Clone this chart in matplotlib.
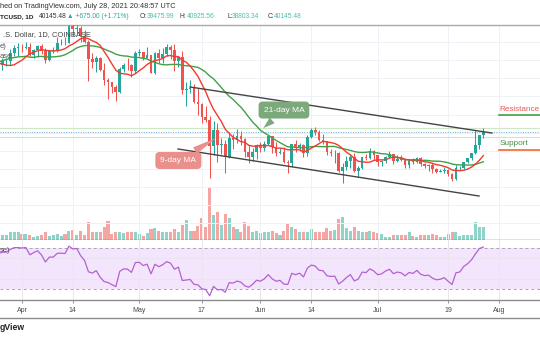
import numpy as np
import pandas as pd
import matplotlib
matplotlib.use("Agg")
import matplotlib.pyplot as plt
from matplotlib.lines import Line2D

plt.rcParams['font.family'] = ['Liberation Sans', 'DejaVu Sans']

# BTCUSD daily candles, 2021-03-26 .. 2021-07-28 (prices in thousand USD)
opens = [51.3, 55.0, 55.8, 55.8, 57.6, 58.8, 58.8, 58.7, 59.0, 57.1, 58.2, 59.1, 58.0, 56.0, 58.1, 58.1, 59.8, 59.9,
         59.8, 63.6, 62.9, 63.2, 61.4, 60.1, 56.2, 55.7, 56.5, 53.8, 51.7, 51.2, 50.1, 49.0, 54.0, 55.0, 54.9, 53.6,
         57.7, 57.8, 56.6, 57.2, 53.2, 57.5, 56.4, 57.4, 58.9, 58.3, 55.8, 56.7, 49.5, 49.7, 49.9, 46.8, 46.4, 43.5,
         42.9, 37.0, 40.6, 37.3, 37.5, 34.7, 38.8, 38.4, 39.3, 38.5, 35.7, 34.6, 35.7, 37.3, 36.7, 37.6, 39.2, 36.9,
         35.5, 35.8, 33.6, 33.4, 37.4, 36.7, 37.3, 35.5, 39.1, 40.5, 40.1, 38.3, 38.1, 35.8, 35.5, 35.6, 31.6, 32.5,
         33.7, 34.7, 31.6, 32.2, 34.7, 34.5, 35.9, 35.0, 33.5, 33.8, 34.7, 35.3, 33.7, 34.2, 33.9, 32.9, 33.8, 33.5,
         34.3, 33.1, 32.7, 32.8, 31.9, 31.4, 31.5, 31.8, 30.8, 29.8, 32.1, 32.3, 33.6, 34.3, 35.4, 37.3, 39.48]
highs = [55.1, 56.6, 56.6, 58.4, 59.4, 59.8, 59.5, 60.0, 59.8, 58.5, 59.3, 59.5, 58.6, 58.2, 58.9, 61.2, 60.7, 61.2,
         63.8, 64.9, 63.8, 63.6, 62.6, 60.4, 57.5, 57.0, 56.8, 55.4, 52.1, 51.2, 50.5, 54.4, 55.5, 56.4, 55.2, 58.0,
         58.5, 57.9, 58.9, 57.2, 57.9, 58.4, 58.6, 59.5, 59.3, 59.6, 56.9, 58.0, 51.3, 51.6, 50.7, 49.8, 46.6, 45.8,
         43.6, 42.5, 42.2, 38.8, 38.3, 39.9, 39.8, 40.8, 40.4, 38.9, 37.3, 36.5, 37.5, 37.9, 38.2, 39.5, 39.3, 37.9,
         36.5, 36.8, 34.0, 37.5, 38.4, 37.7, 37.4, 39.4, 41.0, 41.3, 40.5, 39.6, 38.2, 36.4, 36.1, 35.7, 33.3, 34.9,
         35.3, 35.5, 32.7, 34.7, 35.3, 36.6, 36.1, 35.0, 33.9, 34.9, 35.9, 35.3, 35.0, 35.1, 33.9, 34.1, 34.3, 34.6,
         34.6, 33.3, 33.1, 33.2, 32.2, 31.9, 32.4, 31.9, 31.0, 32.8, 32.6, 33.6, 34.5, 35.4, 40.5, 39.5, 40.93]
lows = [51.3, 53.9, 54.7, 54.9, 57.0, 56.9, 57.9, 58.5, 57.0, 56.5, 56.8, 57.4, 55.5, 55.9, 57.7, 57.9, 59.4, 59.4,
        59.8, 61.3, 62.1, 60.0, 59.9, 51.5, 54.2, 53.4, 53.6, 50.5, 47.5, 48.8, 47.0, 48.8, 53.3, 53.9, 52.4, 53.1,
        57.0, 56.0, 56.5, 53.1, 52.9, 55.3, 55.4, 56.9, 56.3, 53.6, 54.4, 48.6, 46.0, 48.8, 46.6, 43.8, 42.1, 42.3,
        30.0, 35.0, 33.5, 35.3, 31.1, 34.4, 36.4, 37.8, 37.2, 34.7, 33.4, 33.7, 34.2, 35.7, 35.9, 37.2, 35.6, 34.8,
        35.3, 33.4, 31.0, 32.4, 35.8, 35.9, 34.6, 34.8, 38.8, 39.5, 38.1, 37.4, 35.1, 34.8, 33.4, 31.3, 28.8, 31.7,
        32.3, 31.3, 30.2, 32.0, 33.9, 34.2, 34.0, 32.7, 32.7, 33.3, 34.5, 33.1, 33.5, 33.8, 32.1, 32.3, 33.0, 33.3,
        32.7, 32.2, 31.6, 31.1, 31.0, 31.2, 31.1, 30.4, 29.3, 29.5, 31.7, 31.9, 33.4, 33.9, 35.3, 36.4, 38.80]
closes = [55.0, 55.8, 55.8, 57.6, 58.8, 58.8, 58.7, 59.0, 57.1, 58.2, 59.1, 58.0, 56.0, 58.1, 58.1, 59.8, 59.9, 59.8,
          63.6, 62.9, 63.2, 61.4, 60.1, 56.2, 55.7, 56.5, 53.8, 51.7, 51.2, 50.1, 49.0, 54.0, 55.0, 54.9, 53.6, 57.7,
          57.8, 56.6, 57.2, 53.2, 57.5, 56.4, 57.4, 58.9, 58.3, 55.8, 56.7, 49.5, 49.7, 49.9, 46.8, 46.4, 43.5, 42.9,
          37.0, 40.6, 37.3, 37.5, 34.7, 38.8, 38.4, 39.3, 38.5, 35.7, 34.6, 35.7, 37.3, 36.7, 37.6, 39.2, 36.9, 35.5,
          35.8, 33.6, 33.4, 37.4, 36.7, 37.3, 35.5, 39.1, 40.5, 40.1, 38.3, 38.1, 35.8, 35.5, 35.6, 31.6, 32.5, 33.7,
          34.7, 31.6, 32.2, 34.7, 34.5, 35.9, 35.0, 33.5, 33.8, 34.7, 35.3, 33.7, 34.2, 33.9, 32.9, 33.8, 33.5, 34.3,
          33.1, 32.7, 32.8, 31.9, 31.4, 31.5, 31.8, 30.8, 29.8, 32.1, 32.3, 33.6, 34.3, 35.4, 37.3, 39.5, 40.145]
# closes of 2021-03-06 .. 2021-03-25, only used to warm up MA / RSI
closes_before = [48.9, 50.9, 52.4, 54.9, 55.9, 57.8, 57.2, 61.2, 59.0, 55.6, 56.9, 58.9, 57.6, 58.1, 58.1, 57.4,
                 54.1, 54.3, 52.3, 51.3]
# volume, thousand BTC
volume = [14, 12, 12, 20, 18, 20, 14, 14, 11, 7, 10, 11, 18, 10, 11, 14, 10, 14, 21, 24, 12, 22, 13, 43, 18, 20, 18,
          32, 46, 14, 18, 20, 17, 18, 18, 18, 14, 10, 16, 26, 28, 22, 20, 18, 20, 26, 18, 35, 48, 22, 22, 34, 52, 32,
          127, 60, 66, 36, 62, 52, 32, 26, 20, 42, 34, 18, 22, 16, 18, 18, 22, 16, 12, 22, 40, 30, 26, 18, 18, 20, 26,
          20, 20, 20, 28, 22, 24, 50, 56, 28, 22, 32, 22, 18, 18, 22, 20, 16, 14, 8, 8, 12, 12, 12, 12, 18, 10, 8, 12,
          12, 12, 14, 12, 8, 8, 14, 20, 18, 10, 12, 12, 12, 44, 30, 30]

tick_days = [6, 19, 36, 52, 67, 80, 97, 115, 128]
tick_labels = ['Apr', '14', 'May', '17', 'Jun', '14', 'Jul', '19', 'Aug']
price_grid = [20, 24, 28, 32, 36, 40, 44, 48, 52, 56, 60]

channel_upper = ([49.0, 126.2], [50.09, 39.92])
channel_lower = ([45.9, 122.9], [36.39, 26.0])
zone_top, last_price, zone_bottom = 41.0, 40.145, 39.0
resistance_level, support_level = 43.9, 36.2

UP, DOWN = '#26a69a', '#ef5350'
W, H = 540, 340


def fx(x):
    return x / W


def fy(y):
    return 1 - y / H


days = np.arange(len(closes))
o, h, l, c = map(np.array, (opens, highs, lows, closes))
up = c >= o

all_close = pd.Series(closes_before + closes)
ma9 = all_close.rolling(9).mean().values[len(closes_before):]
ma21 = all_close.rolling(21).mean().values[len(closes_before):]
diff = all_close.diff()
gain = diff.clip(lower=0).ewm(alpha=1 / 14, adjust=False).mean()
loss = (-diff.clip(upper=0)).ewm(alpha=1 / 14, adjust=False).mean()
rsi = (100 - 100 / (1 + gain / loss)).values[len(closes_before):]

fig = plt.figure(figsize=(5.4, 3.4), dpi=100)
fig.patch.set_facecolor('white')

vol_ax = fig.add_axes([0, fy(240), 1, 215 / H])
ax = fig.add_axes([0, fy(240), 1, 215 / H], sharex=vol_ax)
rsi_ax = fig.add_axes([0, fy(300), 1, 60 / H], sharex=ax)
ax.set_facecolor('none')

# volume
vol_ax.bar(days, volume, width=0.78, color=np.where(up, '#8fd3c9', '#f6a6a2'), zorder=2)
vol_ax.set_ylim(0, max(volume) * 215 / 53)
vol_ax.axis('off')

# price pane
ax.set_xlim(0.373, 138.5)
ax.set_ylim(16.28, 63.79)
ax.set_yticks(price_grid)
ax.set_xticks(tick_days)
ax.tick_params(length=0, labelbottom=False, labelleft=False)
ax.grid(True, color='#eef2f6', lw=0.7)
ax.set_axisbelow(True)
for s in ('left', 'right'):
    ax.spines[s].set_visible(False)
ax.spines['top'].set_color('#a9a9a9')
ax.spines['top'].set_linewidth(1.0)
ax.spines['bottom'].set_color('#6e6e6e')
ax.spines['bottom'].set_linewidth(1.0)

ax.axhline(zone_top, color='#cfe6c6', lw=0.8, zorder=1)
ax.axhline(zone_bottom, color='#cfe6c6', lw=0.8, zorder=1)
ax.axhline(last_price, color='#6fa9d6', lw=0.7, ls=(0, (1, 1.5)), zorder=1)

ax.vlines(days, l, h, colors=np.where(up, UP, DOWN), lw=0.75, zorder=3)
ax.bar(days, np.maximum(np.abs(c - o), 0.08), bottom=np.minimum(o, c), width=0.68,
       color=np.where(up, UP, DOWN), zorder=4)

ax.plot(days, ma21, color='#43a047', lw=1.0, zorder=5)
ax.plot(days, ma9, color='#f23a30', lw=1.0, zorder=5)

ax.plot(*channel_upper, color='#444444', lw=1.0, zorder=6)
ax.plot(*channel_lower, color='#444444', lw=1.0, zorder=6)

ax.annotate('21-day MA', xy=(67.2, 40.6), xytext=(73.0, 45.0), color='white', fontsize=6,
            ha='center', va='center', zorder=8,
            bbox=dict(boxstyle='round,pad=0.6,rounding_size=0.5', fc='#7ba97c', ec='none'),
            arrowprops=dict(arrowstyle='wedge,tail_width=0.9,shrink_factor=0.5', fc='#7ba97c', ec='none'))
ax.annotate('9-day MA', xy=(56.2, 39.1), xytext=(46.0, 33.85), color='white', fontsize=6,
            ha='center', va='center', zorder=8,
            bbox=dict(boxstyle='round,pad=0.6,rounding_size=0.5', fc='#e98f8c', ec='none'),
            arrowprops=dict(arrowstyle='wedge,tail_width=0.9,shrink_factor=0.5', fc='#e98f8c', ec='none'))

ax.text(128.2, 45.1, 'Resistance', color='#e35d5b', fontsize=5.9, va='center', ha='left')
ax.plot([128.0, 140], [resistance_level, resistance_level], color='#3f9e45', lw=1.2, clip_on=True)
ax.text(128.2, 37.5, 'Support', color='#4b8f49', fontsize=5.9, va='center', ha='left')
ax.plot([128.0, 140], [support_level, support_level], color='#f26a2e', lw=1.2, clip_on=True)

# RSI pane
rsi_ax.set_ylim(19.3, 77.5)
rsi_ax.axhspan(30, 70, color='#f3e6fc', lw=0, zorder=0)
rsi_ax.axhline(70, color='#aaa3b4', lw=0.7, ls=(0, (3, 3)))
rsi_ax.axhline(30, color='#aaa3b4', lw=0.7, ls=(0, (3, 3)))
rsi_ax.set_yticks([40, 60])
rsi_ax.grid(True, color='#e9e4f0', lw=0.7)
rsi_ax.plot(days, rsi, color='#b361d2', lw=0.9, zorder=3)
rsi_ax.set_xticks(tick_days)
rsi_ax.set_xticklabels(tick_labels)
rsi_ax.tick_params(axis='x', length=2.5, width=0.6, color='#888888', pad=2.5, labelsize=5, labelcolor='#4a4a4a')
rsi_ax.tick_params(axis='y', length=0, labelleft=False)
for s in ('left', 'right', 'top'):
    rsi_ax.spines[s].set_visible(False)
rsi_ax.spines['bottom'].set_color('#8c8c8c')
rsi_ax.spines['bottom'].set_linewidth(1.0)

fig.add_artist(Line2D([0, 1], [fy(318), fy(318)], color='#8c8c8c', lw=1.0))

# header and pane legends
fig.text(fx(0), fy(6.5), 'hed on TradingView.com, July 28, 2021 20:48:57 UTC', fontsize=5.3,
         color='#333333', va='center', ha='left')
head = [(0, 'TCUSD, 1D', '#222222', 'bold', 4.6), (39, '40145.48', '#333333', 'normal', 4.8),
        (67, '\u25b2 +675.00 (+1.71%)', '#26a69a', 'normal', 4.8),
        (140, 'O:', '#333333', 'normal', 4.8), (147, '39475.99', '#4dbdb0', 'normal', 4.8),
        (180, 'H:', '#333333', 'normal', 4.8), (187, '40925.56', '#4dbdb0', 'normal', 4.8),
        (227, 'L:', '#333333', 'normal', 4.8), (232, '38803.34', '#4dbdb0', 'normal', 4.8),
        (268, 'C:', '#333333', 'normal', 4.8), (274, '40145.48', '#4dbdb0', 'normal', 4.8)]
for x, s, col, wt, size in head:
    fig.text(fx(x), fy(16.5), s, fontsize=size, color=col, weight=wt, va='center', ha='left',
             family=['Liberation Sans', 'DejaVu Sans'])

fig.text(fx(3), fy(35), '.S. Dollar, 1D, COINBASE', fontsize=5.4, color='#444444', va='center')
fig.text(fx(0), fy(46), 'e)', fontsize=5.4, color='#555555', va='center')
fig.text(fx(0), fy(56), 'ase', fontsize=5.4, color='#555555', va='center')
fig.text(fx(0), fy(251), 'se)', fontsize=5.4, color='#555555', va='center')
fig.text(fx(0), fy(328), 'gView', fontsize=6.2, color='#222222', weight='bold', va='center')

fig.savefig('out.png', dpi=100)
